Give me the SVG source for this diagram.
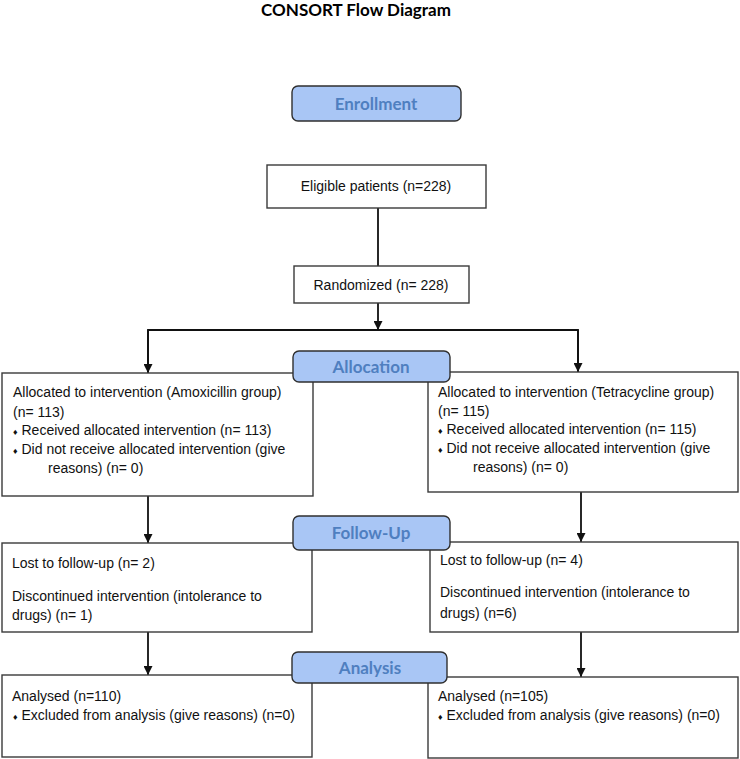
<svg xmlns="http://www.w3.org/2000/svg" width="740" height="759" viewBox="0 0 740 759">
<style>
.box{fill:#fff;stroke:#3a3a3a;stroke-width:1.4}
.lbl{fill:#a9c6f5;stroke:#2f2f2f;stroke-width:1.4}
.lt{font-family:Lato,"Liberation Sans",sans-serif;font-weight:bold;font-size:17px;fill:#4f7fc0;text-anchor:middle}
.t{font-family:"Liberation Sans",Arial,sans-serif;font-size:14px;fill:#111}
.c{text-anchor:middle}
.b{font-size:9px}
.ln{stroke:#111;stroke-width:1.8;fill:none}
</style>
<defs>
<marker id="ah" viewBox="0 0 10 10" refX="10" refY="5" markerWidth="5" markerHeight="5" orient="auto" markerUnits="strokeWidth">
<path d="M0,0 L10,5 L0,10 z" fill="#111"/>
</marker>
</defs>
<rect width="740" height="759" fill="#fff"/>
<text x="356" y="16" font-family="Lato,'Liberation Sans',sans-serif" font-weight="bold" font-size="17" fill="#000" text-anchor="middle">CONSORT Flow Diagram</text>

<g id="connectors">
<line class="ln" x1="378" y1="208" x2="378" y2="266"/>
<line class="ln" x1="378" y1="303" x2="378" y2="330" marker-end="url(#ah)"/>
<polyline class="ln" points="148,373 148,330 578,330 578,372"/>
<line class="ln" x1="148" y1="330" x2="148" y2="373" marker-end="url(#ah)"/>
<line class="ln" x1="578" y1="330" x2="578" y2="372" marker-end="url(#ah)"/>
<line class="ln" x1="148" y1="496" x2="148" y2="543" marker-end="url(#ah)"/>
<line class="ln" x1="581" y1="492" x2="581" y2="542" marker-end="url(#ah)"/>
<line class="ln" x1="148" y1="632" x2="148" y2="675" marker-end="url(#ah)"/>
<line class="ln" x1="581" y1="632" x2="581" y2="677" marker-end="url(#ah)"/>
</g>

<g id="eligible">
<rect class="box" x="267" y="165" width="219" height="43"/>
<text class="t c" x="376" y="191">Eligible patients (n=228)</text>
</g>
<g id="randomized">
<rect class="box" x="294" y="266" width="175" height="37"/>
<text class="t c" x="381" y="290">Randomized (n= 228)</text>
</g>

<g id="alloc-left">
<rect class="box" x="2" y="373" width="311" height="123"/>
<text class="t" x="13" y="397">Allocated to intervention (Amoxicillin group)</text>
<text class="t" x="13" y="417">(n= 113)</text>
<text class="t" x="13" y="435"><tspan class="b">♦</tspan> Received allocated intervention (n= 113)</text>
<text class="t" x="13" y="454"><tspan class="b">♦</tspan> Did not receive allocated intervention (give</text>
<text class="t" x="48" y="473">reasons) (n= 0)</text>
</g>
<g id="alloc-right">
<rect class="box" x="428" y="372" width="310" height="120"/>
<text class="t" x="438" y="397">Allocated to intervention (Tetracycline group)</text>
<text class="t" x="438" y="416">(n= 115)</text>
<text class="t" x="438" y="434"><tspan class="b">♦</tspan> Received allocated intervention (n= 115)</text>
<text class="t" x="438" y="453"><tspan class="b">♦</tspan> Did not receive allocated intervention (give</text>
<text class="t" x="473" y="472">reasons) (n= 0)</text>
</g>

<g id="follow-left">
<rect class="box" x="2" y="543" width="310" height="89"/>
<text class="t" x="12" y="568">Lost to follow-up (n= 2)</text>
<text class="t" x="12" y="601">Discontinued intervention (intolerance to</text>
<text class="t" x="12" y="620">drugs) (n= 1)</text>
</g>
<g id="follow-right">
<rect class="box" x="430" y="542" width="308" height="90"/>
<text class="t" x="440" y="565">Lost to follow-up (n= 4)</text>
<text class="t" x="440" y="597">Discontinued intervention (intolerance to</text>
<text class="t" x="440" y="618">drugs) (n=6)</text>
</g>

<g id="analysis-left">
<rect class="box" x="2" y="675" width="310" height="82"/>
<text class="t" x="12" y="701">Analysed (n=110)</text>
<text class="t" x="13" y="720"><tspan class="b">♦</tspan> Excluded from analysis (give reasons) (n=0)</text>
</g>
<g id="analysis-right">
<rect class="box" x="428" y="677" width="310" height="81"/>
<text class="t" x="438" y="701">Analysed (n=105)</text>
<text class="t" x="438" y="720"><tspan class="b">♦</tspan> Excluded from analysis (give reasons) (n=0)</text>
</g>

<g id="label-enrollment">
<rect class="lbl" x="292" y="86" width="169" height="35" rx="6"/>
<text class="lt" x="376" y="110">Enrollment</text>
</g>
<g id="label-allocation">
<rect class="lbl" x="293" y="351" width="157" height="31" rx="6"/>
<text class="lt" x="371" y="373">Allocation</text>
</g>
<g id="label-followup">
<rect class="lbl" x="293" y="516" width="157" height="34" rx="6"/>
<text class="lt" x="371" y="539">Follow-Up</text>
</g>
<g id="label-analysis">
<rect class="lbl" x="292" y="652" width="155" height="31" rx="6"/>
<text class="lt" x="370" y="674">Analysis</text>
</g>
</svg>
